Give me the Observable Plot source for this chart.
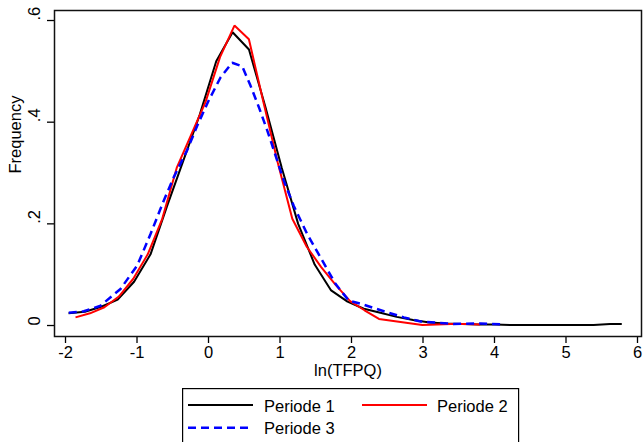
<!DOCTYPE html>
<html><head><meta charset="utf-8">
<script src="https://cdn.jsdelivr.net/npm/d3@7"></script>
<script src="https://cdn.jsdelivr.net/npm/@observablehq/plot@0.6"></script>
<style>
html,body{margin:0;padding:0;background:#fff;overflow:hidden;width:644px;height:442px;}
#chart{position:absolute;left:0;top:0;}
#legend{position:absolute;left:182px;top:388px;}
</style></head><body>
<div id="chart"></div>
<div id="legend"></div>
<script>
// ---- data ----
const periods = ["Periode 1", "Periode 2", "Periode 3"];
const colors = ["#000000", "#ff0000", "#0000ff"];
const dashes = [null, null, "8,5"];

const p1X = [-1.958, -1.729, -1.499, -1.270, -1.041, -0.811, -0.580, -0.351, -0.122, 0.108, 0.337, 0.566, 0.796, 1.025, 1.254, 1.485, 1.715, 1.944, 2.173, 2.403, 2.632, 2.862, 3.091, 3.321, 3.550, 3.780, 4.009, 4.239, 4.468, 4.698, 4.927, 5.157, 5.386, 5.616, 5.780];
const p1Y = [0.024, 0.027, 0.037, 0.051, 0.086, 0.14, 0.235, 0.325, 0.415, 0.52, 0.577, 0.543, 0.43, 0.31, 0.20, 0.12, 0.069, 0.047, 0.033, 0.025, 0.017, 0.011, 0.006, 0.004, 0.003, 0.002, 0.002, 0.001, 0.001, 0.001, 0.001, 0.001, 0.001, 0.003, 0.003];

const p2X = [-1.860, -1.658, -1.456, -1.254, -1.052, -0.850, -0.647, -0.445, -0.243, -0.041, 0.161, 0.363, 0.565, 0.767, 0.969, 1.172, 1.374, 1.576, 1.778, 1.980, 2.182, 2.384, 2.586, 2.788, 2.991, 3.193, 3.395, 3.597, 3.799];
const p2Y = [0.016, 0.024, 0.036, 0.057, 0.092, 0.14, 0.21, 0.31, 0.375, 0.44, 0.528, 0.59, 0.563, 0.44, 0.32, 0.21, 0.155, 0.115, 0.08, 0.048, 0.03, 0.013, 0.009, 0.005, 0.001, 0.002, 0.003, 0.003, 0.002];

const p3X = [-1.954, -1.744, -1.510, -1.231, -0.997, -0.811, -0.625, -0.485, -0.298, -0.158, 0.004, 0.168, 0.331, 0.471, 0.587, 0.703, 0.821, 0.913, 1.053, 1.193, 1.380, 1.566, 1.776, 1.962, 2.126, 2.499, 2.731, 2.965, 3.427, 3.804, 4.126];
const p3Y = [0.025, 0.028, 0.039, 0.072, 0.118, 0.18, 0.246, 0.292, 0.345, 0.393, 0.443, 0.488, 0.517, 0.51, 0.472, 0.43, 0.384, 0.345, 0.285, 0.235, 0.18, 0.134, 0.082, 0.049, 0.043, 0.026, 0.016, 0.008, 0.003, 0.004, 0.002];

const xTicks = [-2, -1, 0, 1, 2, 3, 4, 5, 6];
const yTicks = [0, 0.2, 0.4, 0.6];
const yTickLabels = ["0", ".2", ".4", ".6"];
const xTitle = "ln(TFPQ)";
const yTitle = "Frequency";

// ---- build table ----
const seriesX = [p1X, p2X, p3X];
const seriesY = [p1Y, p2Y, p3Y];
const rows = [];
periods.forEach((name, s) => seriesX[s].forEach((x, i) => rows.push({period: name, x, y: seriesY[s][i]})));

const font = '"Liberation Sans", Arial, Helvetica, sans-serif';
const fs = 16.5;

const lineMarks = periods.map((name, s) => Plot.line(rows.filter(r => r.period === name), {
  x: "x", y: "y", stroke: colors[s], strokeWidth: s === 2 ? 2.5 : 2,
  strokeDasharray: dashes[s] || undefined, strokeLinejoin: "miter", strokeLinecap: "butt"
}));

const chart = Plot.plot({
  width: 644, height: 386,
  marginLeft: 54, marginRight: 3, marginTop: 10, marginBottom: 50,
  style: {fontFamily: font, fontSize: fs + "px", color: "#000", background: "#fff"},
  x: {domain: [-2.154, 6.056]},
  y: {domain: [-0.0216, 0.6197]},
  marks: [
    Plot.axisX({ticks: xTicks, tickSize: 7, tickPadding: 3, tickFormat: d => String(d), label: null, fontSize: fs, strokeWidth: 1.3}),
    Plot.axisY({ticks: yTicks, tickSize: 7, tickFormat: () => "", label: null, strokeWidth: 1.3}),
    Plot.text(yTicks, {y: d => d, frameAnchor: "left", dx: -19.3, rotate: -90, text: (d, i) => yTickLabels[i], fontSize: fs}),
    Plot.text([yTitle], {frameAnchor: "left", dx: -39.2, rotate: -90, text: d => d, fontSize: fs}),
    Plot.text([xTitle], {frameAnchor: "bottom", dy: 39.5, text: d => d, fontSize: fs}),
    ...lineMarks,
    Plot.frame({stroke: "#111", strokeWidth: 1.5})
  ]
});
document.getElementById("chart").appendChild(chart);

// ---- legend ----
const lg = d3.select("#legend").append("svg").attr("width", 338).attr("height", 70)
  .style("font-family", font).style("font-size", fs + "px");
lg.append("rect").attr("x", 0.6).attr("y", 0.6).attr("width", 336).attr("height", 80)
  .attr("fill", "none").attr("stroke", "#000").attr("stroke-width", 1.2);
const slots = [{lx: 6, ly: 17, tx: 82, ty: 24.3}, {lx: 180, ly: 17, tx: 255, ty: 24.3}, {lx: 6, ly: 39.7, tx: 82, ty: 46}];
periods.forEach((name, s) => {
  const p = slots[s];
  lg.append("line").attr("x1", p.lx).attr("x2", p.lx + 65).attr("y1", p.ly).attr("y2", p.ly)
    .attr("stroke", colors[s]).attr("stroke-width", s === 2 ? 2.5 : 2)
    .attr("stroke-dasharray", dashes[s]);
  lg.append("text").attr("x", p.tx).attr("y", p.ty).attr("fill", "#000").text(name);
});
</script>
</body></html>
